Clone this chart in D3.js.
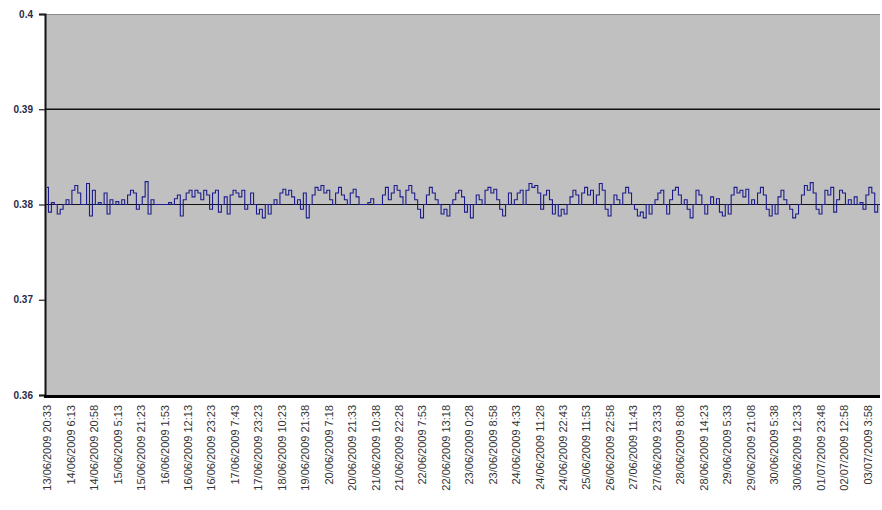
<!DOCTYPE html>
<html><head><meta charset="utf-8">
<script src="https://cdn.jsdelivr.net/npm/d3@7"></script>
<style>html,body{margin:0;padding:0;background:#fff;}svg{display:block;}</style>
</head><body>
<svg id="chart" width="882" height="510"></svg>
<script>
const yTicks = [0.36, 0.37, 0.38, 0.39, 0.4];
const yTickLabels = ["0.36", "0.37", "0.38", "0.39", "0.4"];
const gridValues = [0.39, 0.38];
const xLabels = [
 "13/06/2009 20:33","14/06/2009 6:13","14/06/2009 20:58","15/06/2009 5:13","15/06/2009 21:23",
 "16/06/2009 1:53","16/06/2009 12:13","16/06/2009 23:23","17/06/2009 7:43","17/06/2009 23:23",
 "18/06/2009 10:23","19/06/2009 21:38","20/06/2009 7:18","20/06/2009 21:33","21/06/2009 10:38",
 "21/06/2009 22:28","22/06/2009 7:53","22/06/2009 13:18","23/06/2009 0:28","23/06/2009 8:58",
 "24/06/2009 4:33","24/06/2009 11:28","24/06/2009 22:43","25/06/2009 11:53","26/06/2009 22:58",
 "27/06/2009 11:43","27/06/2009 23:33","28/06/2009 8:08","28/06/2009 14:23","29/06/2009 5:33",
 "29/06/2009 21:08","30/06/2009 5:38","30/06/2009 12:33","01/07/2009 23:48","02/07/2009 12:58",
 "03/07/2009 3:58"
];
const pointsPerLabel = 8;
const values = [
 0.3818,0.3792,0.3802,0.3800,0.3790,0.3795,0.3800,0.3805,0.3800,0.3815,
 0.3820,0.3812,0.3800,0.3800,0.3822,0.3788,0.3815,0.3800,0.3802,0.3800,
 0.3812,0.3790,0.3805,0.3800,0.3803,0.3800,0.3805,0.3800,0.3810,0.3815,
 0.3812,0.3795,0.3800,0.3808,0.3824,0.3790,0.3805,0.3800,0.3800,0.3800,
 0.3800,0.3800,0.3802,0.3800,0.3806,0.3810,0.3788,0.3805,0.3812,0.3815,
 0.3808,0.3815,0.3812,0.3805,0.3815,0.3810,0.3795,0.3812,0.3815,0.3792,
 0.3800,0.3808,0.3790,0.3810,0.3815,0.3812,0.3808,0.3815,0.3795,0.3800,
 0.3812,0.3800,0.3790,0.3795,0.3786,0.3800,0.3790,0.3800,0.3805,0.3800,
 0.3812,0.3816,0.3810,0.3815,0.3808,0.3800,0.3805,0.3795,0.3812,0.3786,
 0.3800,0.3810,0.3818,0.3815,0.3820,0.3812,0.3815,0.3805,0.3800,0.3812,
 0.3818,0.3810,0.3805,0.3800,0.3812,0.3816,0.3808,0.3800,0.3800,0.3800,
 0.3802,0.3806,0.3800,0.3800,0.3800,0.3810,0.3818,0.3805,0.3812,0.3820,
 0.3815,0.3808,0.3800,0.3815,0.3820,0.3812,0.3805,0.3795,0.3786,0.3800,
 0.3810,0.3818,0.3812,0.3805,0.3800,0.3790,0.3795,0.3788,0.3800,0.3805,
 0.3812,0.3815,0.3808,0.3792,0.3800,0.3786,0.3800,0.3810,0.3805,0.3800,
 0.3815,0.3818,0.3812,0.3816,0.3805,0.3795,0.3788,0.3800,0.3812,0.3800,
 0.3805,0.3812,0.3815,0.3800,0.3815,0.3822,0.3818,0.3820,0.3812,0.3795,
 0.3810,0.3815,0.3805,0.3790,0.3800,0.3788,0.3795,0.3790,0.3800,0.3808,
 0.3815,0.3810,0.3800,0.3812,0.3818,0.3810,0.3815,0.3800,0.3810,0.3822,
 0.3815,0.3795,0.3788,0.3800,0.3810,0.3805,0.3800,0.3812,0.3818,0.3812,
 0.3800,0.3795,0.3788,0.3792,0.3786,0.3800,0.3790,0.3800,0.3805,0.3812,
 0.3815,0.3800,0.3790,0.3805,0.3815,0.3818,0.3810,0.3800,0.3805,0.3795,
 0.3786,0.3800,0.3815,0.3810,0.3800,0.3790,0.3800,0.3808,0.3800,0.3806,
 0.3792,0.3788,0.3800,0.3790,0.3810,0.3818,0.3812,0.3815,0.3808,0.3816,
 0.3800,0.3805,0.3800,0.3812,0.3818,0.3810,0.3795,0.3788,0.3800,0.3790,
 0.3808,0.3815,0.3805,0.3800,0.3795,0.3786,0.3790,0.3800,0.3810,0.3820,
 0.3815,0.3823,0.3812,0.3795,0.3790,0.3800,0.3815,0.3810,0.3818,0.3792,
 0.3805,0.3815,0.3812,0.3800,0.3805,0.3800,0.3808,0.3800,0.3802,0.3795,
 0.3810,0.3818,0.3812,0.3792,0.3800
];

const svg = d3.select("#chart");
const plot = {left: 45, right: 880, top: 14, bottom: 395};

const x = d3.scaleLinear().domain([0, values.length - 1]).range([47, 47 + (values.length - 1) * 2.93]);
const y = d3.scaleLinear().domain([0.36, 0.4]).range([plot.bottom, plot.top]);

// plot background
svg.append("rect").attr("x", plot.left).attr("y", plot.top)
  .attr("width", plot.right - plot.left).attr("height", plot.bottom - plot.top)
  .attr("fill", "#c0c0c0");
svg.append("line").attr("x1", plot.left).attr("x2", plot.right)
  .attr("y1", plot.top + 0.5).attr("y2", plot.top + 0.5)
  .attr("stroke", "#8a8a8a").attr("stroke-width", 1);

// gridlines
svg.selectAll("line.grid").data(gridValues).join("line").attr("class", "grid")
  .attr("x1", plot.left).attr("x2", plot.right)
  .attr("y1", d => y(d)).attr("y2", d => y(d))
  .attr("stroke", "#111").attr("stroke-width", d => d === 0.39 ? 1.6 : 1.2);

// data line
const line = d3.line().x((d, i) => x(i)).y(d => y(d)).curve(d3.curveStep);
svg.append("path").datum(values).attr("d", line)
  .attr("fill", "none").attr("stroke", "#1c1c8c").attr("stroke-width", 1.1);

// y axis
const yAxis = d3.axisLeft(y).tickValues(yTicks)
  .tickFormat((d, i) => yTickLabels[i]).tickSize(6).tickPadding(6);
const gy = svg.append("g").attr("transform", `translate(${plot.left},0)`).call(yAxis);
gy.select(".domain").attr("stroke", "#111").attr("stroke-width", 2);
gy.selectAll(".tick line").attr("stroke", "#222").attr("stroke-width", 1.2);
gy.selectAll(".tick text").attr("font-family", "Liberation Sans, Arial, sans-serif")
  .attr("font-size", 10).attr("font-weight", "bold").attr("fill", "#2a2a4a");

// bottom axis line
svg.append("line").attr("x1", plot.left - 1).attr("x2", plot.right)
  .attr("y1", plot.bottom + 1.5).attr("y2", plot.bottom + 1.5)
  .attr("stroke", "#000").attr("stroke-width", 3.2);

// x labels
const labelIdx = xLabels.map((d, i) => i * pointsPerLabel);
const xAxis = d3.axisBottom(x).tickValues(labelIdx)
  .tickFormat((d, i) => xLabels[i]).tickSize(0).tickPadding(0);
const gx = svg.append("g").attr("transform", `translate(0,${plot.bottom})`).call(xAxis);
gx.select(".domain").remove();
gx.selectAll(".tick text")
  .attr("font-family", "Liberation Sans, Arial, sans-serif").attr("font-size", 11)
  .attr("fill", "#333")
  .attr("text-anchor", "end")
  .attr("transform", "translate(0,10) rotate(-90)")
  .attr("x", 0).attr("y", 0).attr("dy", "0.35em");
</script>
</body></html>
